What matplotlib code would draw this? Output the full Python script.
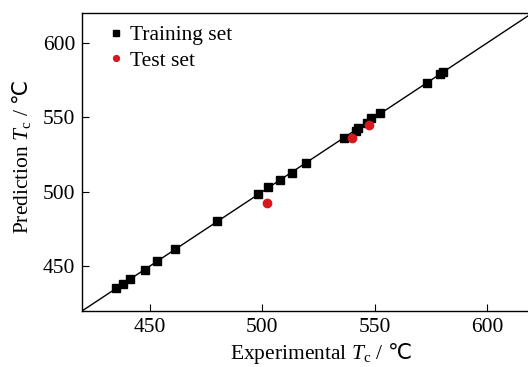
import matplotlib
matplotlib.use("Agg")
import matplotlib.pyplot as plt

plt.rcParams["font.family"] = ["Liberation Serif", "DejaVu Serif"]
plt.rcParams["mathtext.fontset"] = "custom"
plt.rcParams["mathtext.rm"] = "Liberation Serif"
plt.rcParams["mathtext.it"] = "Liberation Serif:italic"
plt.rcParams["mathtext.sf"] = "Noto Sans CJK SC"

train_exp = [434.9, 438.2, 441.3, 448.1, 453.3, 461.3, 479.9, 498.1, 502.6,
             508.0, 513.1, 519.3, 536.2, 541.6, 542.4, 546.5, 548.3, 552.5,
             573.2, 579.0, 580.2]
train_pred = [435.3, 437.9, 441.6, 447.8, 453.6, 461.5, 480.2, 498.4, 502.9,
              508.2, 512.8, 519.6, 536.3, 540.5, 542.7, 546.3, 549.3, 553.0,
              573.0, 578.8, 580.6]
test_exp = [502.1, 540.1, 547.3]
test_pred = [492.8, 536.4, 545.1]

lim = (420, 620)
ticks = [450, 500, 550, 600]
fs = 15.5

fig = plt.figure(figsize=(5.28, 3.67), dpi=100)
ax = fig.add_axes([0.1553, 0.1526, 0.853, 0.812])

ax.plot(lim, lim, color="black", linewidth=1.0, zorder=1)
ax.plot(train_exp, train_pred, linestyle="none", marker="s", markersize=5.5,
        color="black", label="Training set", zorder=2)
ax.plot(test_exp, test_pred, linestyle="none", marker="o", markersize=6,
        color="#d7191f", label="Test set", zorder=3)

ax.set_xlim(*lim)
ax.set_ylim(*lim)
ax.set_xticks(ticks)
ax.set_yticks(ticks)
ax.tick_params(direction="in", length=5, width=0.8, labelsize=fs, pad=5)
for s in ax.spines.values():
    s.set_linewidth(1.0)

ax.set_xlabel(r"Experimental $\mathit{T}_\mathrm{c}$ / $\mathsf{℃}$", fontsize=fs)
ax.set_ylabel(r"Prediction $\mathit{T}_\mathrm{c}$ / $\mathsf{℃}$", fontsize=fs)
ax.xaxis.set_label_coords(0.531, -0.10)
ax.yaxis.set_label_coords(-0.108, 0.517)

ax.legend(loc="upper left", bbox_to_anchor=(0.031, 1.01), frameon=False,
          fontsize=fs, handlelength=0.5, handletextpad=0.4, borderaxespad=0.3,
          borderpad=0.4, labelspacing=0.25, markerscale=0.7)

fig.savefig("out.png", dpi=100)
